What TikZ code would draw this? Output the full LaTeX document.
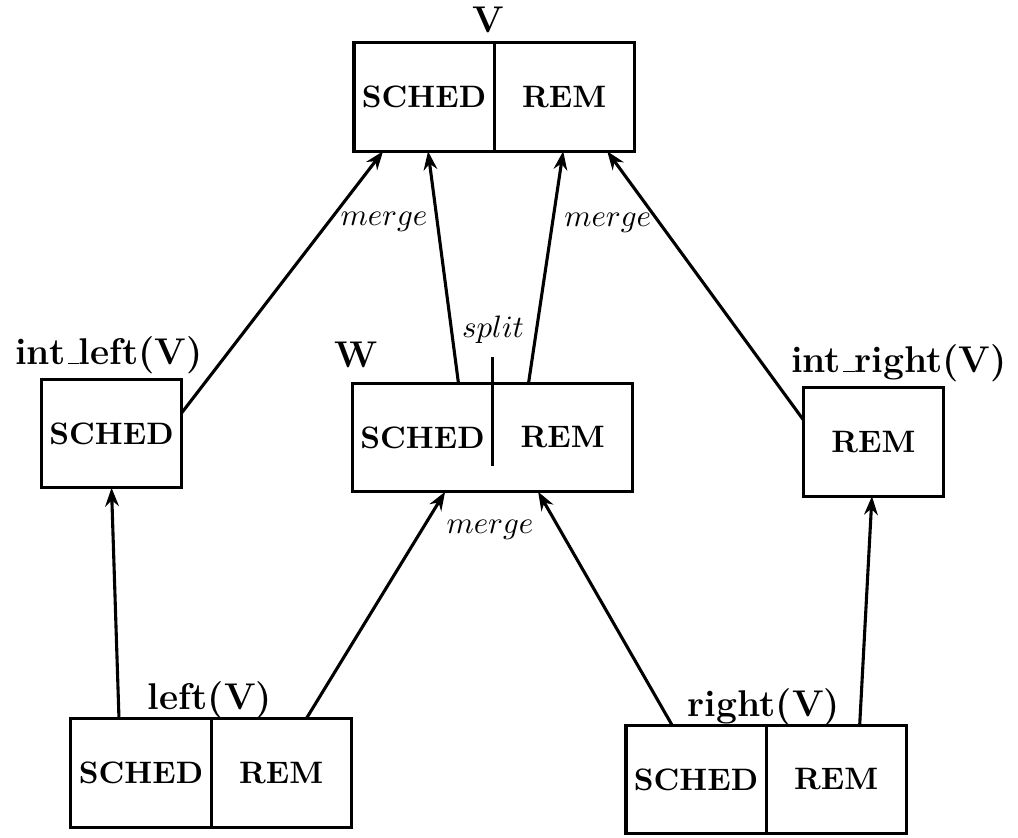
\documentclass[tikz,border=0pt]{standalone}
\usepackage{tikz}
\usetikzlibrary{positioning,arrows.meta,fit}
\newcommand{\uscore}{\leavevmode\kern.06em\vbox{\hrule width.3em height.5pt}}

\begin{document}
\begin{tikzpicture}[
  x=0.3226pt, y=0.3226pt,
  half/.style={draw, line width=1pt, minimum width=45.2pt, minimum height=35pt, inner sep=0pt, outer sep=0pt, font=\bfseries},
  blank/.style={half, draw=none},
  tag/.style={font=\large\bfseries},
  arrow/.style={-{Stealth[length=6pt,width=4.4pt]}, line width=1pt}
]
\useasboundingbox (0,0) rectangle (1018,-837);

\node[half] (vS) at (424,-97) {SCHED};
\node[half, right=0pt of vS] (vR) {REM};
\node[tag] (vT) at (488,-20) {V};

\node[blank] (wS) at (422.5,-437.5) {SCHED};
\node[blank, right=0pt of wS] (wR) {REM};
\node[draw, line width=1pt, inner sep=0pt, outer sep=0pt, fit=(wS)(wR)] (W) {};
\node[tag] (wT) at (356,-355) {W};

\node[half] (iL) at (111.5,-433.5) {SCHED};
\node[tag] (iLT) at (109,-355) {int\uscore left(V)};
\node[half] (iR) at (873.5,-442) {REM};
\node[tag] (iRT) at (899,-363) {int\uscore right(V)};

\node[half] (lS) at (141,-773) {SCHED};
\node[half, right=0pt of lS] (lR) {REM};
\node[tag] (lT) at (210,-700) {left(V)};
\node[half] (rS) at (696,-779.5) {SCHED};
\node[half, right=0pt of rS] (rR) {REM};
\node[tag] (rT) at (764,-707) {right(V)};

\draw[arrow] ([yshift=6.6pt]iL.east) -- ([xshift=-13.2pt]vS.south) node[pos=0.73, right] {$merge$};
\draw[arrow] ([xshift=-11pt]W.north) -- ([xshift=1.3pt]vS.south);
\draw[arrow] ([xshift=11.6pt]W.north) -- ([xshift=-0.3pt]vR.south) node[pos=0.69, right] {$merge$};
\draw[arrow] ([yshift=7.1pt]iR.west) -- ([xshift=13.9pt]vR.south);
\node (split) at (493,-330) {$split$};
\draw[line width=1pt] ([yshift=8.4pt]wS.north east) -- ([yshift=8.4pt]wS.south east);

\draw[arrow] ([xshift=-7.1pt]lS.north) -- (iL.south);
\draw[arrow] ([xshift=8.1pt]lR.north) -- ([xshift=7.3pt]wS.south);
\node (mrgW) at (490,-530) {$merge$};
\draw[arrow] ([xshift=-7.7pt]rS.north) -- ([xshift=-7.9pt]wR.south);
\draw[arrow] ([xshift=7.6pt]rR.north) -- ([xshift=-0.5pt]iR.south);
\end{tikzpicture}
\end{document}
